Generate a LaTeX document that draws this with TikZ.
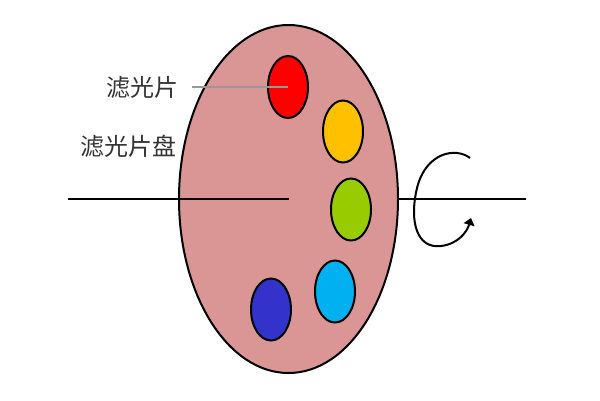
\documentclass[tikz,border=0pt]{standalone}
\usepackage{fontspec}
\newfontfamily\cjk{Noto Sans CJK SC}
\usetikzlibrary{arrows.meta,shapes.geometric}
\definecolor{disk}{HTML}{D99694}
\definecolor{fred}{HTML}{FF0000}
\definecolor{fyellow}{HTML}{FFC000}
\definecolor{fgreen}{HTML}{99CC00}
\definecolor{fcyan}{HTML}{00B0F0}
\definecolor{fblue}{HTML}{3333CC}
\definecolor{txt}{HTML}{333333}
\tikzset{
  filt/.style={ellipse, draw=black, line width=2pt, minimum width=40pt, minimum height=62pt, inner sep=0pt},
  lbl/.style={text=txt, font=\cjk\fontsize{24}{24}\selectfont, inner sep=0pt},
  axis/.style={line width=2pt, black},
}
\begin{document}
\begin{tikzpicture}[x=1pt,y=-1pt]
\useasboundingbox (0,0) rectangle (600,400);
\node[ellipse, draw=black, line width=2pt, fill=disk, minimum width=219pt, minimum height=348pt, inner sep=0pt] (disk) at (288.5,199) {};
\node[filt, fill=fred] (red) at (288,87) {};
\node[filt, fill=fyellow] (yellow) at (343,131.5) {};
\node[filt, fill=fgreen] (green) at (351,209.5) {};
\node[filt, fill=fcyan] (cyan) at (335,291.5) {};
\node[filt, fill=fblue] (blue) at (271,309.5) {};
\coordinate (c) at (289,199);
\coordinate (axl) at (68,199);
\coordinate (axr) at (526,199);
\coordinate (gs) at (192,87);
\draw[axis] (axl) -- (c);
\draw[axis] (disk.east) -- (axr);
\node[lbl] (l1) at (142.5,87) {滤光片};
\node[lbl] (l2) at (128.5,146) {滤光片盘};
\draw[gray!80, line width=1.3pt] (gs) -- (red.center);
\draw[line width=2pt, -{Triangle[length=7pt,width=11pt]}] (470,158) .. controls (456,147) and (426,152) .. (417,188) .. controls (409,222) and (417,249) .. (441,246) .. controls (458,244) and (467,232) .. (471,218);
\end{tikzpicture}
\end{document}
